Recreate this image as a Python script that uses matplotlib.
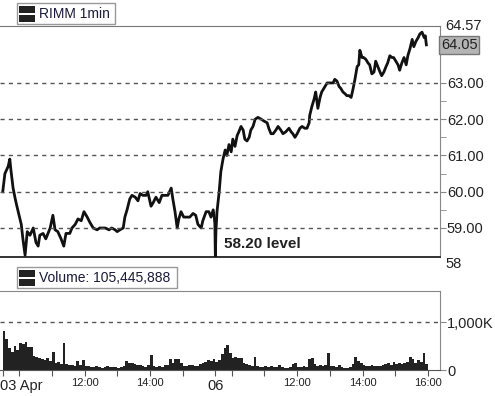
import matplotlib
matplotlib.use("Agg")
import matplotlib.pyplot as plt
import matplotlib.transforms as mtransforms
from matplotlib.patches import Rectangle
import numpy as np

plt.rcParams['font.family'] = ['Liberation Sans', 'DejaVu Sans']

# --- data --------------------------------------------------------------
ticker_label = "RIMM 1min"
volume_label = "Volume: 105,445,888"
last_price = 64.05
high_price = 64.57
support_level = 58.20

# minutes after the 09:30 open, day 1 (03 Apr)
day1_min = [0, 4, 10, 13, 15, 19, 23, 26, 30, 34, 37, 41, 45, 50, 56, 61, 65, 68,
            74, 79, 87, 92, 96, 101, 107, 112, 116, 123, 127, 133, 138, 144, 149,
            155, 160, 166, 173, 178, 188, 195, 200, 206, 210, 215, 221, 224, 228,
            233, 237, 243, 248, 252, 257, 263, 266, 272, 276, 281, 287, 292, 298,
            303, 309, 312, 316, 320, 323, 327, 332, 338, 343, 349, 354, 358, 364,
            367, 373, 378, 382, 386, 389]
day1_px = [60.0, 60.5, 60.7, 60.9, 60.6, 60.1, 59.8, 59.6, 59.35, 59.1, 58.7, 58.25,
           58.9, 58.8, 59.0, 58.6, 58.5, 58.8, 58.85, 58.7, 59.0, 59.35, 58.95, 58.9,
           58.7, 58.5, 58.85, 58.85, 59.0, 59.1, 59.25, 59.2, 59.45, 59.3, 59.15,
           59.0, 58.95, 59.0, 59.0, 58.95, 59.0, 58.95, 58.9, 58.95, 59.0, 59.3,
           59.5, 59.8, 59.9, 59.85, 59.75, 59.95, 59.9, 59.9, 60.0, 59.6, 59.7,
           59.85, 59.7, 59.9, 59.9, 59.9, 60.1, 59.8, 59.45, 59.0, 59.25, 59.45,
           59.3, 59.3, 59.3, 59.4, 59.35, 59.1, 59.0, 59.2, 59.45, 59.45, 59.3,
           59.5, 59.2]

# minutes after the 09:30 open, day 2 (06 Apr)
day2_min = [0, 1, 3, 7, 10, 14, 18, 21, 25, 29, 32, 36, 40, 43, 47, 51, 54, 58, 62,
            65, 69, 73, 78, 84, 89, 95, 98, 102, 106, 111, 115, 120, 124, 129, 135,
            139, 142, 146, 150, 155, 159, 164, 168, 172, 173, 177, 181, 184, 188,
            192, 195, 201, 205, 210, 216, 219, 223, 227, 230, 234, 238, 241, 245,
            249, 252, 256, 260, 263, 265, 269, 272, 276, 280, 283, 287, 291, 294,
            298, 302, 305, 309, 313, 316, 320, 324, 327, 331, 335, 338, 342, 346,
            350, 353, 357, 361, 364, 368, 372, 375, 379, 383, 385, 387]
day2_px = [58.2, 58.9, 59.45, 60.0, 60.55, 60.9, 61.15, 61.0, 61.3, 61.1, 61.45,
           61.25, 61.55, 61.65, 61.8, 61.7, 61.45, 61.4, 61.5, 61.7, 61.8, 62.0,
           62.05, 62.0, 61.95, 61.9, 61.75, 61.6, 61.6, 61.7, 61.8, 61.7, 61.6,
           61.65, 61.75, 61.65, 61.6, 61.5, 61.6, 61.75, 61.8, 61.75, 61.75, 61.9,
           62.1, 62.35, 62.55, 62.75, 62.3, 62.6, 62.75, 62.9, 63.0, 63.0, 63.0,
           63.1, 63.05, 62.9, 62.85, 62.75, 62.7, 62.65, 62.65, 62.6, 62.8, 63.1,
           63.45, 63.5, 63.9, 63.7, 63.7, 63.65, 63.55, 63.5, 63.25, 63.3, 63.6,
           63.45, 63.3, 63.2, 63.3, 63.45, 63.55, 63.75, 63.7, 63.7, 63.6, 63.5,
           63.35, 63.55, 63.7, 63.5, 63.75, 63.95, 64.2, 64.0, 64.15, 64.25, 64.35,
           64.4, 64.25, 64.3, 64.05]

# volume per 5-minute bucket, thousands of shares
day1_vol = [820, 650, 450, 380, 500, 420, 560, 540, 580, 470, 470, 300, 280, 260,
            220, 200, 260, 180, 380, 150, 160, 120, 570, 130, 100, 110, 90, 180,
            110, 200, 90, 80, 70, 60, 90, 60, 50, 60, 80, 60, 70, 60, 50, 60, 80,
            180, 150, 140, 120, 110, 100, 80, 70, 110, 320, 80, 70, 80, 60, 100,
            100, 240, 150, 240, 230, 150, 90, 80, 110, 100, 80, 90, 120, 150, 160,
            200, 180, 220]
day2_vol = [170, 200, 340, 460, 520, 360, 260, 280, 250, 260, 150, 120, 100, 90,
            280, 80, 70, 60, 80, 60, 80, 70, 60, 100, 60, 40, 40, 60, 120, 140, 70,
            60, 80, 70, 240, 250, 120, 80, 100, 90, 110, 360, 90, 80, 70, 100, 60,
            50, 40, 60, 120, 280, 190, 150, 110, 90, 80, 100, 80, 90, 80, 100, 120,
            150, 110, 160, 130, 140, 130, 150, 170, 280, 220, 150, 200, 170, 360, 130]

price_ticks = [59, 60, 61, 62, 63]
session_len = 390
time_ticks = [(0, "03 Apr"), (150, "12:00"), (270, "14:00"), (390, "06"),
              (540, "12:00"), (660, "14:00"), (780, "16:00")]

# --- figure -------------------------------------------------------------
fig = plt.figure(figsize=(4.95, 3.96), dpi=100)
ax = fig.add_axes([0.0, 1 - 257 / 396, 440 / 495, 231 / 396])
axv = fig.add_axes([0.0, 1 - 370 / 396, 440 / 495, 79 / 396])

t1 = np.array(day1_min)
t2 = np.array(day2_min) + session_len
ax.plot(t1, day1_px, color='#111111', lw=2.0)
ax.plot(np.r_[t1[-1], t2], np.r_[day1_px[-1], day2_px], color='#111111', lw=2.0)

xlim = (-5, 802)
ax.set_xlim(*xlim)
ax.set_ylim(support_level, high_price)
for p in price_ticks:
    ax.axhline(p, color='#555555', lw=1, ls=(0, (3, 3)))

ax.spines['left'].set_visible(False)
ax.spines['top'].set_color('#777777')
ax.spines['right'].set_color('#888888')
ax.spines['bottom'].set_color('#111111')
ax.spines['bottom'].set_linewidth(1.2)
ax.set_xticks([])
ax.yaxis.tick_right()
ax.set_yticks(price_ticks)
ax.set_yticklabels([f"{p:.2f}" for p in price_ticks])
ax.set_yticks([59.5, 60.5, 61.5, 62.5], minor=True)
ax.tick_params(axis='y', which='both', direction='out', length=4, color='#888888',
               labelsize=10.5, labelcolor='#222222', pad=1)

ytrans = mtransforms.blended_transform_factory(ax.transAxes, ax.transData)
ax.text(1.0 + 5 / 440, high_price, f"{high_price:.2f}", transform=ytrans,
        fontsize=10.5, color='#222222', va='center', ha='left', clip_on=False)
ax.text(1.0 + 5 / 440, 58.0, "58", transform=ytrans,
        fontsize=10.5, color='#222222', va='center', ha='left', clip_on=False)
ax.text(1.0 + 1 / 440, last_price, f"{last_price:.2f}", transform=ytrans,
        fontsize=10.5, color='#222222', va='center', ha='left', clip_on=False,
        bbox=dict(boxstyle='square,pad=0.12', fc='#b4b4b4', ec='#777777', lw=1))

ax.text(406, 58.55, f"{support_level:.2f} level", fontsize=11, fontweight='bold',
        color='#222222', va='center', ha='left')

# volume panel
vx1 = np.arange(len(day1_vol)) * 5 + 2.5
vx2 = np.arange(len(day2_vol)) * 5 + 2.5 + session_len
axv.bar(vx1, np.array(day1_vol) * 1000, width=5, color='#222222', lw=0)
axv.bar(vx2, np.array(day2_vol) * 1000, width=5, color='#222222', lw=0)
axv.set_xlim(*xlim)
axv.set_ylim(0, 1650000)
axv.axhline(1000000, color='#555555', lw=1, ls=(0, (3, 3)))
axv.spines['left'].set_visible(False)
axv.spines['top'].set_color('#888888')
axv.spines['right'].set_color('#888888')
axv.spines['bottom'].set_color('#555555')
axv.yaxis.tick_right()
axv.set_yticks([0, 1000000])
axv.set_yticklabels(["0", "1,000K"])
axv.tick_params(axis='y', direction='out', length=4, color='#888888',
                labelsize=10.5, labelcolor='#222222', pad=1)

major = [0, 30, 90, 150, 210, 270, 330, 390, 420, 480, 540, 600, 660, 720, 780]
axv.set_xticks(major)
axv.set_xticklabels([])
axv.tick_params(axis='x', direction='out', length=4, color='#555555')

xtrans = mtransforms.blended_transform_factory(axv.transData, axv.transAxes)
for t, lab in time_ticks:
    big = ':' not in lab
    ha = 'left' if t == 0 else 'center'
    xx = -5 if t == 0 else t
    axv.text(xx, -0.2 if big else -0.17, lab, transform=xtrans,
             fontsize=10.5 if big else 8, color='#222222', ha=ha, va='center',
             clip_on=False)

# legend boxes
def legend_box(x0, y0, w, h, label):
    fig.patches.append(Rectangle((x0 / 495, 1 - (y0 + h) / 396), w / 495, h / 396,
                                 transform=fig.transFigure, fc='white',
                                 ec='#999999', lw=1))
    fig.patches.append(Rectangle((19 / 495, 1 - (y0 + 10) / 396), 16 / 495, 7 / 396,
                                 transform=fig.transFigure, fc='#222222', lw=0))
    fig.patches.append(Rectangle((19 / 495, 1 - (y0 + 18.5) / 396), 16 / 495, 7 / 396,
                                 transform=fig.transFigure, fc='#222222', lw=0))
    fig.text(39 / 495, 1 - (y0 + h / 2) / 396, label, fontsize=10,
             color='#1a1a3a', va='center', ha='left')

legend_box(17, 3, 98, 21, ticker_label)
legend_box(17, 267, 160, 21, volume_label)

fig.savefig("out.png", dpi=100)
